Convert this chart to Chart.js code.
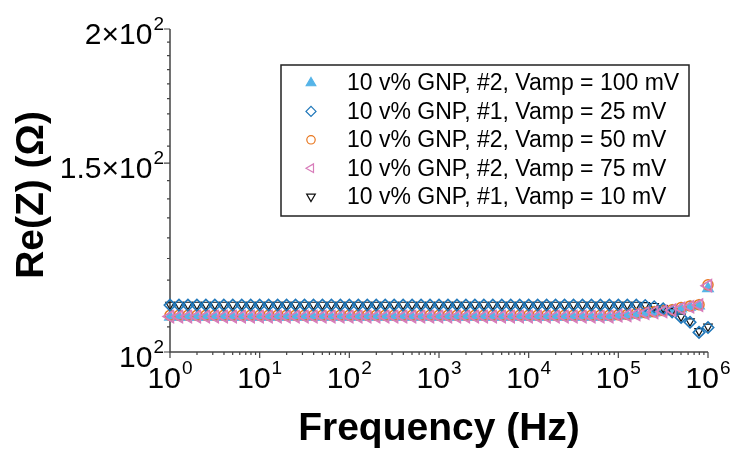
<!DOCTYPE html>
<html lang="en">

<head>
    <meta charset="UTF-8">
    <meta name="viewport" content="width=device-width, initial-scale=1.0">
    <script src="https://cdn.jsdelivr.net/npm/chart.js"></script>
    <title>Re(Z) x Frequency</title>
    <style>
        html, body { margin: 0; padding: 0; background: #fff; }
        #grafico_wrap { width: 732px; height: 450px; }
    </style>
</head>

<body>
    <div id="grafico_wrap"><canvas id="grafico"></canvas></div>
</body>

<script>
    // frequencias da varredura (Hz), 10 pontos por decada
    const frequencias = [
        1, 1.259, 1.585, 1.995, 2.512, 3.162, 3.981, 5.012, 6.310, 7.943,
        10, 12.59, 15.85, 19.95, 25.12, 31.62, 39.81, 50.12, 63.10, 79.43,
        100, 125.9, 158.5, 199.5, 251.2, 316.2, 398.1, 501.2, 631.0, 794.3,
        1000, 1259, 1585, 1995, 2512, 3162, 3981, 5012, 6310, 7943,
        10000, 12590, 15850, 19950, 25120, 31620, 39810, 50120, 63100, 79430,
        100000, 125900, 158500, 199500, 251200, 316200, 398100, 501200, 631000, 794300,
        1000000
    ];

    // Re(Z) em ohm
    const reZ_100mV = [
        107.8, 107.8, 107.8, 107.8, 107.8, 107.8, 107.8, 107.8, 107.8, 107.8,
        107.8, 107.8, 107.8, 107.8, 107.8, 107.8, 107.8, 107.8, 107.8, 107.8,
        107.8, 107.8, 107.8, 107.8, 107.8, 107.8, 107.8, 107.8, 107.8, 107.8,
        107.8, 107.8, 107.8, 107.8, 107.8, 107.8, 107.8, 107.8, 107.8, 107.8,
        107.8, 107.8, 107.8, 107.8, 107.8, 107.8, 107.8, 107.8, 107.8, 107.8,
        108.0, 108.1, 108.3, 108.5, 108.8, 109.0, 109.2, 109.7, 110.1, 110.4,
        114.6
    ];
    const reZ_25mV = [
        110.6, 110.6, 110.6, 110.6, 110.6, 110.6, 110.6, 110.6, 110.6, 110.6,
        110.6, 110.6, 110.6, 110.6, 110.6, 110.6, 110.6, 110.6, 110.6, 110.6,
        110.6, 110.6, 110.6, 110.6, 110.6, 110.6, 110.6, 110.6, 110.6, 110.6,
        110.6, 110.6, 110.6, 110.6, 110.6, 110.6, 110.6, 110.6, 110.6, 110.6,
        110.6, 110.6, 110.6, 110.6, 110.6, 110.6, 110.6, 110.6, 110.6, 110.6,
        110.6, 110.6, 110.6, 110.5, 110.2, 109.7, 109.0, 107.7, 106.6, 104.3,
        105.4
    ];
    const reZ_50mV = [
        108.2, 108.2, 108.2, 108.2, 108.2, 108.2, 108.2, 108.2, 108.2, 108.2,
        108.2, 108.2, 108.2, 108.2, 108.2, 108.2, 108.2, 108.2, 108.2, 108.2,
        108.2, 108.2, 108.2, 108.2, 108.2, 108.2, 108.2, 108.2, 108.2, 108.2,
        108.2, 108.2, 108.2, 108.2, 108.2, 108.2, 108.2, 108.2, 108.2, 108.2,
        108.2, 108.2, 108.2, 108.2, 108.2, 108.2, 108.2, 108.2, 108.2, 108.2,
        108.3, 108.4, 108.6, 108.8, 109.0, 109.3, 109.5, 110.0, 110.4, 110.7,
        115.5
    ];
    const reZ_75mV = [
        107.9, 107.9, 107.9, 107.9, 107.9, 107.9, 107.9, 107.9, 107.9, 107.9,
        107.9, 107.9, 107.9, 107.9, 107.9, 107.9, 107.9, 107.9, 107.9, 107.9,
        107.9, 107.9, 107.9, 107.9, 107.9, 107.9, 107.9, 107.9, 107.9, 107.9,
        107.9, 107.9, 107.9, 107.9, 107.9, 107.9, 107.9, 107.9, 107.9, 107.9,
        107.9, 107.9, 107.9, 107.9, 107.9, 107.9, 107.9, 107.9, 107.9, 107.9,
        108.1, 108.2, 108.4, 108.7, 108.9, 109.1, 109.4, 109.8, 110.2, 110.6,
        115.3
    ];
    const reZ_10mV = [
        110.7, 110.7, 110.7, 110.7, 110.7, 110.7, 110.7, 110.7, 110.7, 110.7,
        110.7, 110.7, 110.7, 110.7, 110.7, 110.7, 110.7, 110.7, 110.7, 110.7,
        110.7, 110.7, 110.7, 110.7, 110.7, 110.7, 110.7, 110.7, 110.7, 110.7,
        110.7, 110.7, 110.7, 110.7, 110.7, 110.7, 110.7, 110.7, 110.7, 110.7,
        110.7, 110.7, 110.7, 110.7, 110.7, 110.7, 110.7, 110.7, 110.7, 110.7,
        110.7, 110.7, 110.7, 110.6, 110.4, 109.9, 109.2, 107.9, 106.8, 104.6,
        105.6
    ];

    const nomesSeries = [
        '10 v% GNP, #2, Vamp = 100 mV',
        '10 v% GNP, #1, Vamp = 25 mV',
        '10 v% GNP, #2, Vamp = 50 mV',
        '10 v% GNP, #2, Vamp = 75 mV',
        '10 v% GNP, #1, Vamp = 10 mV'
    ];

    // ticks principais e rotulos (base, expoente)
    const xTicks = [1, 10, 100, 1000, 10000, 100000, 1000000];
    const xRotulos = [['10', '0'], ['10', '1'], ['10', '2'], ['10', '3'], ['10', '4'], ['10', '5'], ['10', '6']];
    const yTicks = [100, 150, 200];
    const yRotulos = [['10', '2'], ['1.5×10', '2'], ['2×10', '2']];

    const FONTE = "'Liberation Sans', Arial, Helvetica, sans-serif";

    function pontos(serie) {
        return frequencias.map((f, i) => ({ x: f, y: serie[i] }));
    }

    const estilos = [
        { cor: '#55B4E8', forma: 'triangle', rot: 0, raio: 6, larg: 1.4, cheio: true, ordem: 5, raioLeg: 5.5 },
        { cor: '#1F77BA', forma: 'rectRot', rot: 0, raio: 5.7, larg: 1.6, cheio: false, ordem: 2, raioLeg: 5 },
        { cor: '#E8761E', forma: 'circle', rot: 0, raio: 5, larg: 1.5, cheio: false, ordem: 3, raioLeg: 4.2 },
        { cor: '#D87CBA', forma: 'triangle', rot: -90, raio: 6.8, larg: 1.7, cheio: false, ordem: 1, raioLeg: 5 },
        { cor: '#111111', forma: 'triangle', rot: 180, raio: 4.8, larg: 1.2, cheio: false, ordem: 4, raioLeg: 5 }
    ];
    const series = [reZ_100mV, reZ_25mV, reZ_50mV, reZ_75mV, reZ_10mV];

    const datasets = series.map((s, i) => {
        const e = estilos[i];
        return {
            label: nomesSeries[i],
            data: pontos(s),
            showLine: false,
            pointStyle: e.forma,
            rotation: e.rot,
            pointRadius: e.raio,
            pointBorderWidth: e.larg,
            borderColor: e.cor,
            backgroundColor: e.cheio ? e.cor : 'rgba(0,0,0,0)',
            order: e.ordem,
            clip: false
        };
    });

    function desenhaMarcador(ctx, e, x, y, r) {
        ctx.save();
        ctx.strokeStyle = e.cor;
        ctx.fillStyle = e.cheio ? e.cor : 'rgba(0,0,0,0)';
        ctx.lineWidth = 1.2;
        if (Chart.helpers && Chart.helpers.drawPoint) {
            Chart.helpers.drawPoint(ctx, { pointStyle: e.forma, rotation: e.rot, radius: r, borderWidth: 1.2 }, x, y);
        }
        ctx.restore();
    }

    // texto com expoente sobrescrito
    function textoPotencia(ctx, base, exp, x, y, alinhamento) {
        ctx.font = '30px ' + FONTE;
        const wb = ctx.measureText(base).width;
        ctx.font = '19px ' + FONTE;
        const we = ctx.measureText(exp).width;
        const total = wb + we + 1;
        let inicio = x - total / 2;
        if (alinhamento === 'right') inicio = x - total;
        ctx.textAlign = 'left';
        ctx.textBaseline = 'alphabetic';
        ctx.font = '30px ' + FONTE;
        ctx.fillText(base, inicio, y);
        ctx.font = '19px ' + FONTE;
        ctx.fillText(exp, inicio + wb + 1, y - 14);
    }

    const eixos = {
        id: 'eixos',
        beforeDatasetsDraw(chart) {
            const { ctx, chartArea: area, scales: { x, y } } = chart;
            ctx.save();
            ctx.strokeStyle = '#444';
            ctx.lineWidth = 1.5;
            ctx.beginPath();
            ctx.moveTo(area.left, area.top);
            ctx.lineTo(area.left, area.bottom);
            ctx.lineTo(area.right, area.bottom);
            ctx.stroke();

            // ticks do eixo x (maiores e menores)
            ctx.lineWidth = 1.2;
            ctx.beginPath();
            for (let d = 0; d < 6; d++) {
                for (let m = 1; m < 10; m++) {
                    const px = x.getPixelForValue(Math.pow(10, d) * m);
                    ctx.moveTo(px, area.bottom);
                    ctx.lineTo(px, area.bottom + (m === 1 ? 6 : 3));
                }
            }
            const pxFim = x.getPixelForValue(1000000);
            ctx.moveTo(pxFim, area.bottom);
            ctx.lineTo(pxFim, area.bottom + 6);

            // ticks do eixo y: 8 menores entre cada maior
            for (let i = 0; i <= 18; i++) {
                const py = y.getPixelForValue(100 + i * 50 / 9);
                ctx.moveTo(area.left, py);
                ctx.lineTo(area.left - (i % 9 === 0 ? 6 : 3), py);
            }
            ctx.stroke();

            ctx.fillStyle = '#000';
            xTicks.forEach((v, i) => {
                textoPotencia(ctx, xRotulos[i][0], xRotulos[i][1], x.getPixelForValue(v), area.bottom + 36, 'center');
            });
            yTicks.forEach((v, i) => {
                textoPotencia(ctx, yRotulos[i][0], yRotulos[i][1], area.left - 6, y.getPixelForValue(v) + 15, 'right');
            });

            // titulos dos eixos
            ctx.font = 'bold 39px ' + FONTE;
            ctx.textAlign = 'center';
            ctx.textBaseline = 'alphabetic';
            ctx.fillText('Frequency (Hz)', (area.left + area.right) / 2, 440);
            ctx.translate(43, 195);
            ctx.rotate(-Math.PI / 2);
            ctx.fillText('Re(Z) (Ω)', 0, 0);
            ctx.restore();
        }
    };

    const legendaCaixa = {
        id: 'legendaCaixa',
        afterDraw(chart) {
            const ctx = chart.ctx;
            ctx.save();
            ctx.fillStyle = '#fff';
            ctx.fillRect(281, 65, 408, 151);
            ctx.strokeStyle = '#222';
            ctx.lineWidth = 1.5;
            ctx.strokeRect(281, 65, 408, 151);
            ctx.font = '23px ' + FONTE;
            ctx.textAlign = 'left';
            ctx.textBaseline = 'middle';
            nomesSeries.forEach((nome, i) => {
                const yl = 83 + i * 28.4;
                desenhaMarcador(ctx, estilos[i], 311, yl, estilos[i].raioLeg);
                ctx.fillStyle = '#000';
                ctx.fillText(nome, 347, yl + 1);
            });
            ctx.restore();
        }
    };

    new Chart(document.getElementById('grafico'), {
        type: 'scatter',
        data: { datasets: datasets },
        options: {
            responsive: true,
            maintainAspectRatio: false,
            animation: false,
            layout: { padding: { left: 170, right: 24, top: 29, bottom: 98 } },
            plugins: {
                legend: { display: false },
                tooltip: { enabled: false }
            },
            scales: {
                x: { type: 'logarithmic', min: 1, max: 1000000, display: false },
                y: { type: 'logarithmic', min: 100, max: 200, display: false }
            }
        },
        plugins: [eixos, legendaCaixa]
    });
</script>

</html>
